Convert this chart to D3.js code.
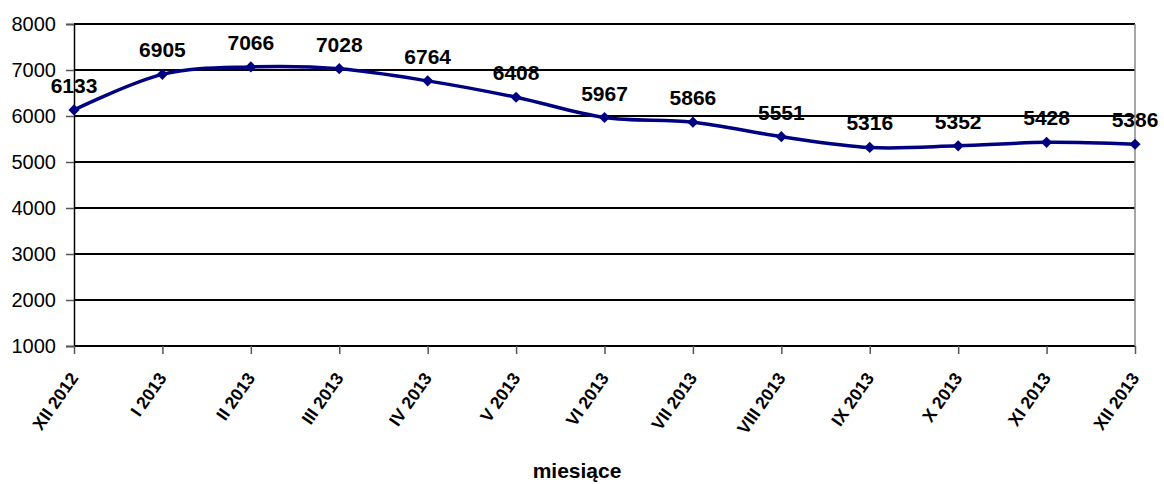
<!DOCTYPE html>
<html lang="pl">
<head>
    <meta charset="UTF-8">
    <title>miesiące</title>
    <style>
        body { margin: 0; background: #fff; }
        text { font-family: "Liberation Sans", Arial, sans-serif; fill: #000; }
    </style>
</head>
<body>

<script src="https://d3js.org/d3.v7.min.js"></script>
<script>

    const months = ['XII 2012', 'I 2013', 'II 2013', 'III 2013', 'IV 2013', 'V 2013', 'VI 2013',
        'VII 2013', 'VIII 2013', 'IX 2013', 'X 2013', 'XI 2013', 'XII 2013'];
    const values = [6133, 6905, 7066, 7028, 6764, 6408, 5967, 5866, 5551, 5316, 5352, 5428, 5386];
    const yTicks = [1000, 2000, 3000, 4000, 5000, 6000, 7000, 8000];
    const xTitle = 'miesiące';

    const width = 1164;
    const height = 484;
    const plotLeft = 74, plotRight = 1135, plotTop = 24, plotBottom = 346;

    let svg = d3.select('body').append('svg')
        .attr('width', width)
        .attr('height', height);

    let x = d3.scalePoint().domain(months).range([plotLeft, plotRight]);
    let y = d3.scaleLinear().domain([1000, 8000]).range([plotBottom, plotTop]);

    // gridlines
    svg.append('g').selectAll('line')
        .data(yTicks)
        .enter().append('line')
        .attr('x1', plotLeft).attr('x2', plotRight)
        .attr('y1', d => y(d)).attr('y2', d => y(d))
        .attr('stroke', '#000')
        .attr('stroke-width', 2);

    // right border
    svg.append('line')
        .attr('x1', plotRight).attr('x2', plotRight)
        .attr('y1', plotTop).attr('y2', plotBottom)
        .attr('stroke', '#888')
        .attr('stroke-width', 1.5);

    // y axis
    let yAxis = svg.append('g')
        .attr('transform', 'translate(' + plotLeft + ',0)')
        .call(d3.axisLeft(y).tickValues(yTicks).tickSize(8).tickPadding(10).tickFormat(d3.format('d')));
    yAxis.select('.domain').attr('stroke', '#000').attr('stroke-width', 1.5);
    yAxis.selectAll('.tick line').attr('stroke', '#555').attr('stroke-width', 1.5);
    yAxis.selectAll('.tick text')
        .style('font-size', '20px')
        .style('font-family', '"Liberation Sans", Arial, sans-serif')
        .attr('fill', '#000');

    // x axis
    let xAxis = svg.append('g')
        .attr('transform', 'translate(0,' + plotBottom + ')')
        .call(d3.axisBottom(x).tickSize(8).tickFormat(''));
    xAxis.select('.domain').remove();
    xAxis.selectAll('.tick line').attr('stroke', '#555').attr('stroke-width', 1.5);

    svg.append('g').selectAll('text')
        .data(months)
        .enter().append('text')
        .attr('transform', d => 'translate(' + (x(d) + 5) + ',' + (plotBottom + 32) + ') rotate(-55)')
        .attr('text-anchor', 'end')
        .style('font-size', '17.5px')
        .style('font-weight', 'bold')
        .text(d => d);

    svg.append('text')
        .attr('x', 577)
        .attr('y', 478)
        .attr('text-anchor', 'middle')
        .style('font-size', '21px')
        .style('font-weight', 'bold')
        .text(xTitle);

    // series
    let line = d3.line()
        .x((d, i) => x(months[i]))
        .y(d => y(d))
        .curve(d3.curveCatmullRom.alpha(0));

    svg.append('path')
        .datum(values)
        .attr('d', line)
        .attr('fill', 'none')
        .attr('stroke', '#000080')
        .attr('stroke-width', 3.5);

    svg.append('g').selectAll('path')
        .data(values)
        .enter().append('path')
        .attr('d', d3.symbol().type(d3.symbolDiamond2).size(80))
        .attr('transform', (d, i) => 'translate(' + x(months[i]) + ',' + y(d) + ')')
        .attr('fill', '#000080');

    svg.append('g').selectAll('text')
        .data(values)
        .enter().append('text')
        .attr('x', (d, i) => x(months[i]))
        .attr('y', d => y(d) - 17)
        .attr('text-anchor', 'middle')
        .style('font-size', '21px')
        .style('font-weight', 'bold')
        .text(d => d);

</script>

</body>
</html>
